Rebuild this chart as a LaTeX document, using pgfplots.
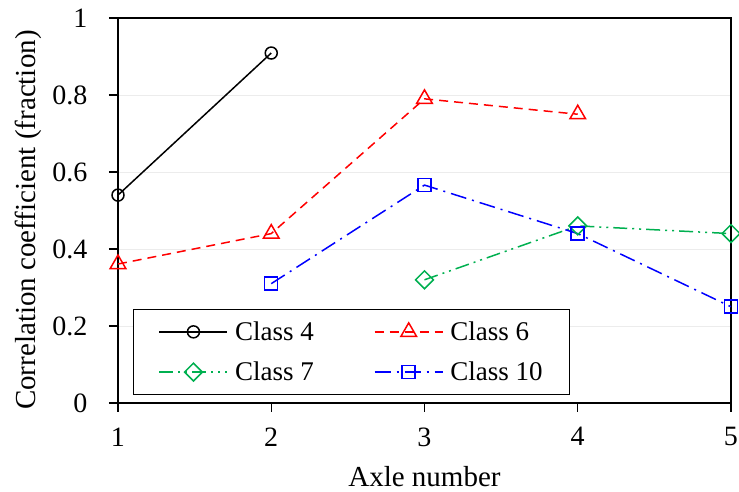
\documentclass[border=0pt]{standalone}
\usepackage{fontspec}
\setmainfont{Liberation Serif}
\usepackage{pgfplots}
\pgfplotsset{compat=1.18}
\definecolor{cgreen}{HTML}{00B050}
\begin{document}
\begin{tikzpicture}
\path[use as bounding box] (-118pt,-89pt) rectangle (621pt,403pt);
\begin{axis}[
  at={(0pt,0pt)}, anchor=south west,
  scale only axis, width=613pt, height=385pt,
  xmin=1, xmax=5, ymin=0, ymax=1,
  xtick={1,2,3,4,5}, ytick={0,0.2,0.4,0.6,0.8,1},
  yticklabels={0,0.2,0.4,0.6,0.8,1},
  xtick pos=bottom, ytick pos=left,
  tick align=outside, major tick length=9pt,
  every tick/.style={black, line width=1.4pt},
  axis line style={line width=1.4pt},
  ymajorgrids, grid style={gray!15, line width=0.6pt},
  clip=false,
  /pgf/number format/assume math mode=true,
  tick label style={font=\fontsize{28}{32}\selectfont},
  xticklabel style={yshift=-12pt},
  yticklabel style={xshift=-18pt},
  xlabel={Axle number},
  ylabel={Correlation coefficient (fraction)},
  label style={font=\fontsize{29}{34}\selectfont},
  xlabel style={at={(rel axis cs:0.5,-0.192)}, anchor=center},
  ylabel style={at={(rel axis cs:-0.147,0.475)}, anchor=center, rotate=0},
  legend columns=2,
  legend style={at={(rel axis cs:0.0245,0.021)}, anchor=south west,
    draw=black, line width=1.4pt, font=\fontsize{27}{31}\selectfont,
    inner xsep=25pt, inner ysep=10pt, row sep=16pt,
    /tikz/every odd column/.append style={column sep=5pt},
    /tikz/every even column/.append style={column sep=58pt}},
  legend cell align=left,
  legend image code/.code={\draw[mark repeat=2,mark phase=2] plot coordinates {(0pt,0pt) (34pt,0pt) (68pt,0pt)};},
]
\addplot[black, line width=1.5pt, mark=o, mark size=6pt, mark options={solid, fill=white, line width=1.5pt}]
  coordinates {(1,0.54) (2,0.909)};
\addlegendentry{Class 4}
\addplot[red, line width=1.5pt, dash pattern=on 9pt off 6pt, mark=triangle, mark size=9pt, mark options={solid, fill=white, line width=1.5pt}]
  coordinates {(1,0.361) (2,0.44) (3,0.79) (4,0.75)};
\addlegendentry{Class 6}
\addplot[cgreen, line width=1.5pt, dash pattern=on 14pt off 5pt on 2pt off 5pt on 2pt off 5pt, mark=square, mark size=6.3pt, mark options={solid, fill=white, line width=1.5pt, rotate=45}]
  coordinates {(3,0.32) (4,0.46) (5,0.44)};
\addlegendentry{Class 7}
\addplot[blue, line width=1.5pt, dash pattern=on 16pt off 6pt on 2pt off 6pt, mark=square, mark size=6.5pt, mark options={solid, fill=white, line width=1.5pt}]
  coordinates {(2,0.31) (3,0.566) (4,0.44) (5,0.25)};
\addlegendentry{Class 10}
\end{axis}
\end{tikzpicture}
\end{document}
